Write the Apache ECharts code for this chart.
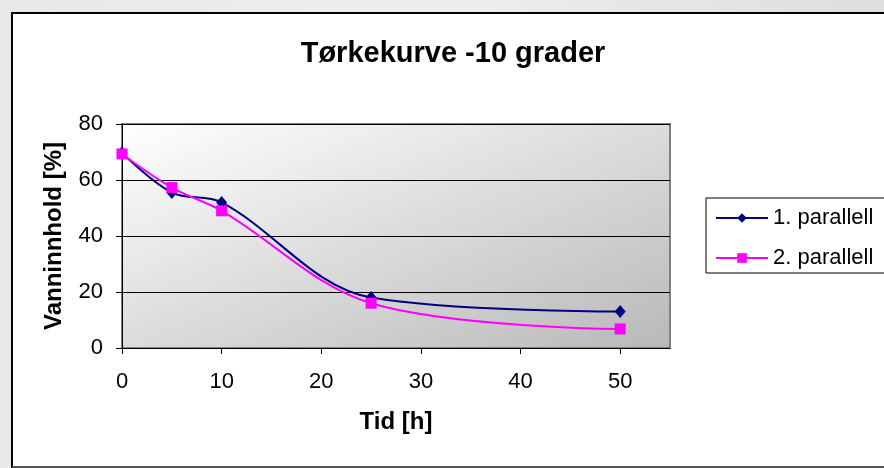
<!DOCTYPE html>
<html>
<head>
<meta charset="utf-8">
<script src="https://cdn.jsdelivr.net/npm/echarts@6/dist/echarts.min.js"></script>
<style>
  html, body { margin: 0; padding: 0; }
  body {
    width: 884px; height: 468px; overflow: hidden; position: relative;
    background: linear-gradient(90deg, #e8e8e8 0%, #eeeeee 50%, #dedede 100%);
  }
  #frame {
    position: absolute; left: 11px; top: 12px; width: 900px; height: 452px;
    background: #ffffff;
    border-left: 2px solid #000; border-top: 2px solid #000; border-bottom: 2px solid #555;
  }
  #chart { position: absolute; left: 0; top: 0; width: 884px; height: 468px; }
</style>
</head>
<body>
<div id="frame"></div>
<div id="chart"></div>
<script>
// Drying curve at -10 degrees: water content [%] versus time [h]
const timeHours = [0, 5, 10, 25, 50];
const parallel1 = [69.7, 55.5, 52.0, 18.0, 13.0];
const parallel2 = [69.3, 57.3, 49.0, 16.0, 6.8];
const seriesNames = ['1. parallell', '2. parallell'];
const xTicks = [0, 10, 20, 30, 40, 50];

const font = '"Liberation Sans", Arial, sans-serif';
const pairs = (xs, ys) => xs.map((x, i) => [x, ys[i]]);

const chart = echarts.init(document.getElementById('chart'), null, { renderer: 'canvas' });
chart.setOption({
  backgroundColor: 'transparent',
  animation: false,
  title: {
    text: 'Tørkekurve -10 grader',
    left: 448, top: 34, textAlign: 'center',
    textStyle: { fontFamily: font, fontSize: 29, fontWeight: 'bold', color: '#000' }
  },
  legend: {
    orient: 'vertical',
    left: 706, top: 198,
    padding: [9, 20, 4, 9],
    itemWidth: 52, itemHeight: 12, itemGap: 18,
    borderColor: '#000', borderWidth: 1,
    backgroundColor: '#fff',
    textStyle: { fontFamily: font, fontSize: 22, lineHeight: 22, color: '#000' },
    data: seriesNames
  },
  grid: {
    left: 122, top: 124, width: 548, height: 224,
    show: true,
    borderColor: '#808080', borderWidth: 2,
    // light at the top-left corner, darkening towards the bottom-right corner
    backgroundColor: new echarts.graphic.LinearGradient(0, 0, 0.286, 1.713, [
      { offset: 0, color: '#ffffff' },
      { offset: 1, color: '#b8b8b8' }
    ])
  },
  xAxis: {
    type: 'value', min: 0, max: 55, interval: 10,
    name: 'Tid [h]', nameLocation: 'middle', nameGap: 62,
    nameTextStyle: { fontFamily: font, fontSize: 24, fontWeight: 'bold', color: '#000' },
    axisLine: { onZero: false, lineStyle: { color: '#000', width: 1 } },
    axisTick: { show: true, inside: false, length: 6, customValues: xTicks, lineStyle: { color: '#000' } },
    axisLabel: { customValues: xTicks, margin: 23, fontFamily: font, fontSize: 22, color: '#000' },
    splitLine: { show: false }
  },
  yAxis: {
    type: 'value', min: 0, max: 80, interval: 20,
    name: 'Vanninnhold [%]', nameLocation: 'middle', nameGap: 56, nameRotate: 90,
    nameTextStyle: { fontFamily: font, fontSize: 24, fontWeight: 'bold', color: '#000' },
    axisLine: { show: true, lineStyle: { color: '#000', width: 1 } },
    axisTick: { show: true, inside: false, length: 6, lineStyle: { color: '#000' } },
    axisLabel: { margin: 19, fontFamily: font, fontSize: 22, color: '#000' },
    splitLine: { show: true, lineStyle: { color: '#000', width: 1 } }
  },
  series: [
    {
      name: seriesNames[0], type: 'line', smooth: 0.35,
      data: pairs(timeHours, parallel1),
      symbol: 'diamond', symbolSize: [11, 13],
      lineStyle: { color: '#000080', width: 2 },
      itemStyle: { color: '#000080' },
      z: 3
    },
    {
      name: seriesNames[1], type: 'line', smooth: 0.35,
      data: pairs(timeHours, parallel2),
      symbol: 'rect', symbolSize: 11,
      lineStyle: { color: '#ff00ff', width: 2 },
      itemStyle: { color: '#ff00ff' },
      z: 4
    }
  ]
});
</script>
</body>
</html>
